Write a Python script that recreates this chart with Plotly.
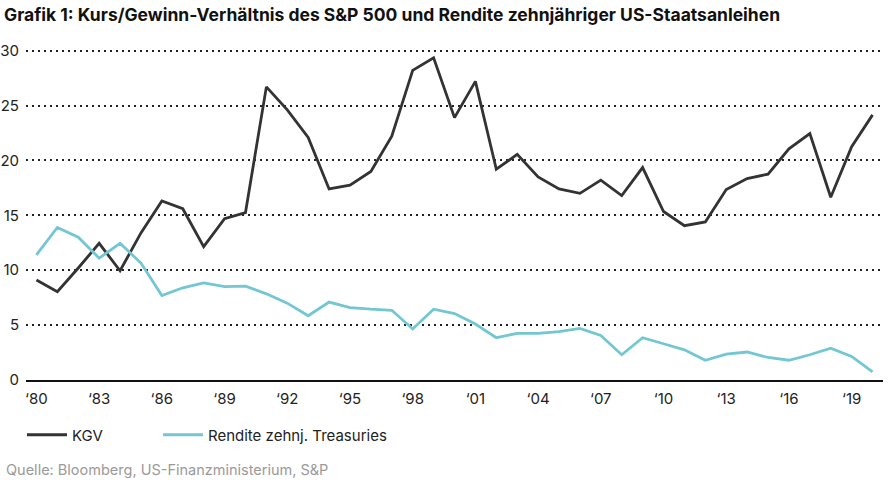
import plotly.graph_objects as go

years = list(range(1980, 2021))

kgv = [9.1, 8.05, 10.2, 12.45, 9.95, 13.4, 16.3, 15.6, 12.15, 14.7,
       15.25, 26.7, 24.6, 22.1, 17.4, 17.75, 19.0, 22.2, 28.2, 29.35,
       23.9, 27.2, 19.2, 20.55, 18.5, 17.4, 17.0, 18.2, 16.8, 19.35,
       15.35, 14.05, 14.4, 17.35, 18.35, 18.75, 21.05, 22.45, 16.65, 21.25,
       24.15]

treasury = [11.4, 13.9, 13.0, 11.1, 12.45, 10.65, 7.7, 8.4, 8.85, 8.5,
            8.55, 7.85, 7.0, 5.85, 7.1, 6.6, 6.45, 6.35, 4.65, 6.45,
            6.05, 5.1, 3.85, 4.25, 4.25, 4.4, 4.7, 4.05, 2.3, 3.85,
            3.3, 2.75, 1.8, 2.35, 2.55, 2.05, 1.8, 2.3, 2.9, 2.15,
            0.75]

tick_years = list(range(1980, 2020, 3))
tick_labels = ["‘" + str(y)[2:] for y in tick_years]

FONT = "Inter"
W, H = 890, 486

fig = go.Figure()
fig.add_trace(go.Scatter(x=years, y=kgv, mode="lines", name="KGV", legend="legend",
                         line=dict(color="#333333", width=2.8)))
fig.add_trace(go.Scatter(x=years, y=treasury, mode="lines", name="Rendite zehnj. Treasuries",
                         legend="legend2", line=dict(color="#72c7d3", width=2.8)))

legend_style = dict(orientation="h", xref="container", yref="container",
                    xanchor="left", yanchor="middle", y=1 - 435 / H,
                    itemwidth=40,
                    font=dict(family=FONT, size=15, color="#222222"),
                    bgcolor="rgba(0,0,0,0)")

fig.update_layout(
    width=W, height=H,
    margin=dict(l=26, r=7, t=49, b=106),
    paper_bgcolor="white", plot_bgcolor="white",
    font=dict(family=FONT, size=15, color="#222222"),
    title=dict(text="<b>Grafik 1: Kurs/Gewinn-Verhältnis des S&P 500 und Rendite zehnjähriger US-Staatsanleihen</b>",
               x=4 / W, xanchor="left", y=1 - 15 / H, yanchor="middle",
               font=dict(family=FONT, size=17.5, color="#111111")),
    showlegend=True,
    legend=dict(x=22 / W, **legend_style),
    legend2=dict(x=158 / W, **legend_style),
)

fig.update_xaxes(range=[1979.5, 2020.5], tickvals=tick_years, ticktext=tick_labels,
                 showgrid=False, showline=True, linecolor="#111111", linewidth=1.5,
                 ticks="", tickfont=dict(size=15, color="#222222"), zeroline=False,
                 ticklabelstandoff=4, automargin=False)
fig.update_yaxes(range=[0, 30.15], tickvals=[0, 5, 10, 15, 20, 25, 30],
                 showgrid=True, gridcolor="#222222", gridwidth=1.5,
                 griddash="2px,4px", zeroline=False, ticks="", ticklabelstandoff=6,
                 tickfont=dict(size=15, color="#222222"), automargin=False)

fig.add_annotation(text="Quelle: Bloomberg, US-Finanzministerium, S&P",
                   xref="paper", yref="paper", x=-22 / 857, y=-90 / 331, xanchor="left", yanchor="middle",
                   showarrow=False, font=dict(family=FONT, size=14.5, color="#9a9a9a"))

# page has a default body margin; drop it so the figure sits at the top-left corner
fig.write_html("out.html", config={"displayModeBar": False},
               post_script="document.body.style.margin='0';")
